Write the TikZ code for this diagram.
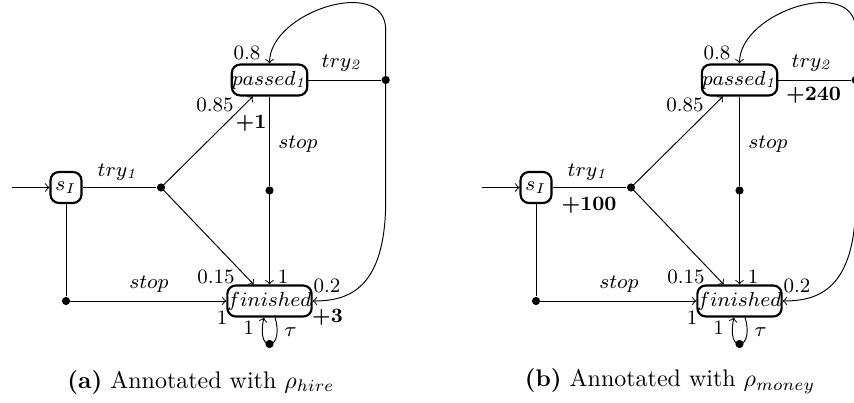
\RequirePackage{fix-cm}
\documentclass[tikz,border=0pt]{standalone}
\usetikzlibrary{calc}

\tikzset{
  x=0.4167pt, y=-0.4167pt,
  state/.style={draw, line width=0.9pt, rounded corners=3.5pt,
    minimum width=12.9pt, minimum height=12.9pt, inner sep=0pt,
    font=\fontsize{8.5}{10}\selectfont},
  wide/.style={minimum width=30.4pt},
  choice/.style={circle, fill, inner sep=0pt, minimum size=3.4pt},
  lbl/.style={inner sep=0pt, font=\fontsize{8.5}{10}\selectfont},
  rew/.style={inner sep=0pt, font=\fontsize{8.5}{10}\selectfont\bfseries},
  caption/.style={inner sep=0pt, font=\normalsize},
  trans/.style={->},
}

% The common part of the decision process; #1 prefixes every node name.
\newcommand{\hiringmdp}[1]{%
  \node[state] (#1sI) at (66,187.5) {$s_I$};
  \node[state, wide] (#1passed) at (269.5,80) {$passed_{\mathit{1}}$};
  \node[state, wide] (#1finished) at (269.5,301) {$finished$};
  \coordinate (#1start) at (12,187.5);
  \node[choice] (#1d1) at (161,187.5) {};
  \node[choice] (#1d2) at (385.7,80) {};
  \node[choice] (#1d3) at (269.5,190.5) {};
  \node[choice] (#1d4) at (66,301) {};
  \node[choice] (#1d5) at (269.5,344) {};
  % transitions
  \draw[trans] (#1start) -- (#1sI);
  \draw (#1sI) -- (#1d1);
  \draw[trans] (#1d1.center) -- (#1passed);
  \draw[trans] (#1d1.center) -- (#1finished);
  \draw (#1passed) -- (#1d2);
  \draw (#1passed) -- (#1d3);
  \draw[trans] (#1d3.center) -- (#1finished);
  \draw (#1sI) -- (#1d4);
  \draw[trans] (#1d4.center) -- (#1finished);
  \draw[trans] (#1d2.center) -- ($(#1d2.center)+(0,-50)$)
    .. controls ($(#1d2.center)+(0,-105)$) and ($(#1passed.north)+(0,-52)$)
    .. (#1passed.north);
  \draw[trans] (#1d2.center) -- ($(#1d2.center)+(0,120)$)
    .. controls ($(#1d2.center)+(0,210)$) and ($(#1finished.east)+(35,0)$)
    .. (#1finished.east);
  \draw ($(#1finished.south)+(5.5,0)$) .. controls +(4,12) and +(8,0) .. (#1d5.center);
  \draw[trans] (#1d5.center) .. controls +(-8,0) and +(-3,12) .. ($(#1finished.south)+(-5.5,0)$);
  % labels
  \node[lbl] (#1ltry1) at (118,172) {$try_{\mathit{1}}$};
  \node[lbl] (#1ltry2) at (342,63) {$try_{\mathit{2}}$};
  \node[lbl] (#1lpa) at (215,105) {0.85};
  \node[lbl] (#1lfa) at (216,277) {0.15};
  \node[lbl] (#1lrep) at (247,52.5) {0.8};
  \node[lbl] (#1lfb) at (327,286) {0.2};
  \node[lbl] (#1lstopa) at (298,144) {$stop$};
  \node[lbl] (#1lfc) at (283,277) {1};
  \node[lbl] (#1lstopb) at (149,284) {$stop$};
  \node[lbl] (#1lfd) at (222,317.5) {1};
  \node[lbl] (#1lloop) at (248.5,328) {1};
  \node[lbl] (#1ltau) at (290.5,332) {$\tau$};
}

\begin{document}
\begin{tikzpicture}
  \useasboundingbox (0,0) rectangle (854,403);
  \clip (0,0) rectangle (854,403);

  % (a) hire rewards
  \hiringmdp{a}
  \node[rew] (arone) at (251,123.5) {+1};
  \node[rew] (arthree) at (327.5,317.5) {+3};
  \node[caption] (acap) at (201,382) {\textbf{(a)} Annotated with $\rho_{hire}$};

  % (b) money rewards
  \begin{scope}[shift={(470,0)}]
    \hiringmdp{b}
    \node[rew] (brone) at (119,205) {+100};
    \node[rew] (brtwo) at (343.5,95) {+240};
    \node[caption] (bcap) at (200,381) {\textbf{(b)} Annotated with $\rho_{money}$};
  \end{scope}
\end{tikzpicture}
\end{document}
